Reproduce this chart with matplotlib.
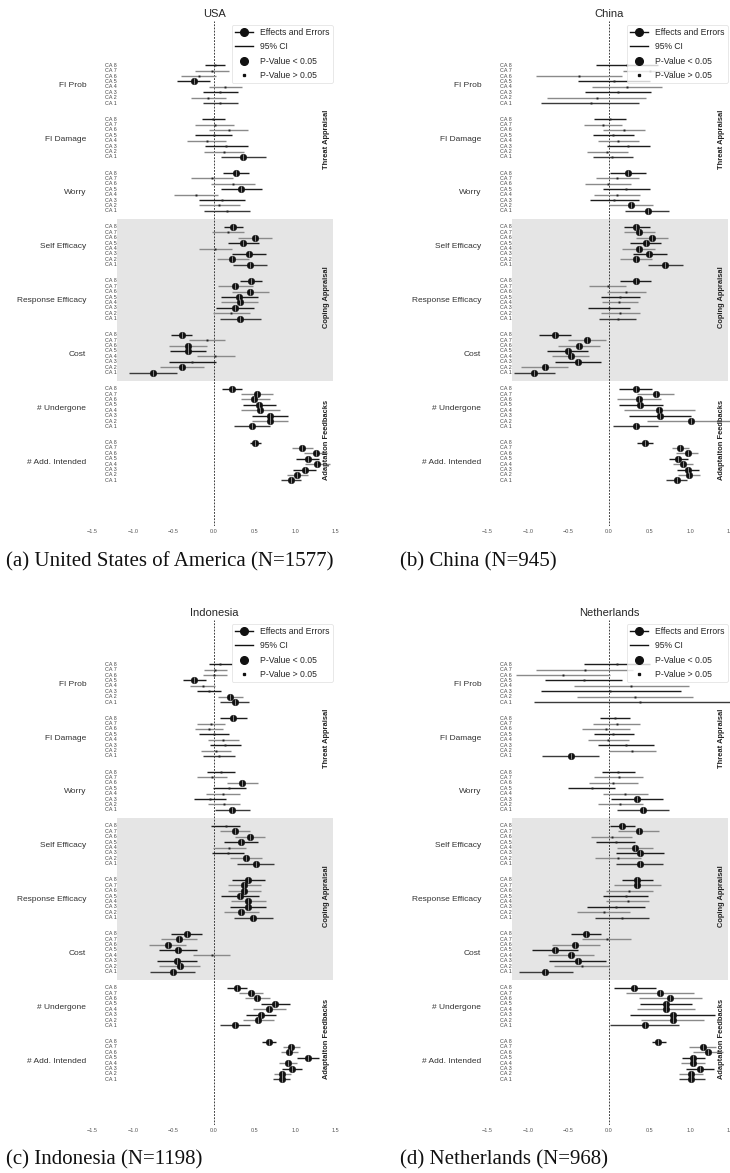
import matplotlib
matplotlib.use("Agg")
import matplotlib.pyplot as plt
from matplotlib.lines import Line2D

# ---------------- data (rows: variables, columns: CA 8 ... CA 1) ----------------
variables = ["FI Prob", "FI Damage", "Worry", "Self Efficacy", "Response Efficacy",
             "Cost", "# Undergone", "# Add. Intended"]
ca_labels = ["CA 8", "CA 7", "CA 6", "CA 5", "CA 4", "CA 3", "CA 2", "CA 1"]
sections = ["Threat Appraisal", "Coping Appraisal", "Adaptaiton Feedbacks"]
countries = ["USA", "China", "Indonesia", "Netherlands"]
captions = ["(a) United States of America (N=1577)", "(b) China (N=945)",
            "(c) Indonesia (N=1198)", "(d) Netherlands (N=968)"]
xticks = [-1.5, -1.0, -0.5, 0.0, 0.5, 1.0, 1.5]

usa_est = [
    [0.012, -0.025, -0.19, -0.25, 0.135, 0.074, -0.07, 0.07],
    [-0.012, 0.012, 0.18, -0.004, -0.09, 0.152, 0.12, 0.357],
    [0.27, -0.025, 0.23, 0.337, -0.226, 0.1, 0.062, 0.16],
    [0.238, 0.172, 0.505, 0.353, 0.008, 0.43, 0.226, 0.443],
    [0.45, 0.263, 0.443, 0.308, 0.316, 0.255, 0.21, 0.324],
    [-0.398, -0.09, -0.32, -0.32, 0.008, -0.267, -0.39, -0.75],
    [0.218, 0.534, 0.49, 0.554, 0.57, 0.686, 0.686, 0.468],
    [0.509, 1.084, 1.25, 1.158, 1.272, 1.117, 1.026, 0.944],
]
usa_lo = [
    [-0.11, -0.234, -0.41, -0.46, -0.066, -0.135, -0.29, -0.135],
    [-0.144, -0.23, -0.057, -0.23, -0.33, -0.107, -0.123, 0.086],
    [0.11, -0.28, -0.037, 0.082, -0.497, -0.18, -0.185, -0.123],
    [0.127, -0.02, 0.296, 0.168, -0.19, 0.218, 0.033, 0.23],
    [0.324, 0.053, 0.218, 0.086, 0.086, 0.02, -0.012, 0.074],
    [-0.525, -0.308, -0.558, -0.542, -0.213, -0.558, -0.66, -1.05],
    [0.1, 0.328, 0.328, 0.353, 0.328, 0.468, 0.468, 0.242],
    [0.44, 0.96, 1.11, 1.014, 1.125, 0.969, 0.9, 0.825],
]
usa_hi = [
    [0.14, 0.19, 0.03, -0.045, 0.35, 0.30, 0.15, 0.29],
    [0.131, 0.24, 0.42, 0.226, 0.15, 0.42, 0.365, 0.636],
    [0.427, 0.234, 0.51, 0.595, 0.05, 0.386, 0.32, 0.447],
    [0.36, 0.37, 0.71, 0.55, 0.218, 0.645, 0.427, 0.657],
    [0.59, 0.476, 0.673, 0.538, 0.546, 0.497, 0.443, 0.579],
    [-0.267, 0.14, -0.082, -0.1, 0.259, 0.02, -0.12, -0.456],
    [0.35, 0.73, 0.69, 0.768, 0.81, 0.915, 0.907, 0.694],
    [0.579, 1.215, 1.387, 1.293, 1.424, 1.26, 1.158, 1.07],
]
usa_sig = [
    [0, 0, 0, 1, 0, 0, 0, 0],
    [0, 0, 0, 0, 0, 0, 0, 1],
    [1, 0, 0, 1, 0, 0, 0, 0],
    [1, 0, 1, 1, 0, 1, 1, 1],
    [1, 1, 1, 1, 1, 1, 0, 1],
    [1, 0, 1, 1, 0, 0, 1, 1],
    [1, 1, 1, 1, 1, 1, 1, 1],
    [1, 1, 1, 1, 1, 1, 1, 1],
]

china_est = [
    [0.22, 0.5, -0.37, 0.062, 0.218, 0.111, -0.152, -0.222],
    [0.016, -0.07, 0.181, 0.049, 0.111, 0.23, -0.025, 0.041],
    [0.235, 0.1, -0.012, 0.206, 0.095, 0.058, 0.268, 0.474],
    [0.338, 0.375, 0.527, 0.453, 0.363, 0.494, 0.326, 0.692],
    [0.326, -0.016, 0.214, 0.132, 0.128, 0.0, 0.14, 0.107],
    [-0.667, -0.268, -0.371, -0.511, -0.474, -0.379, -0.795, -0.919],
    [0.33, 0.573, 0.371, 0.387, 0.618, 0.626, 1.014, 0.326],
    [0.445, 0.878, 0.968, 0.853, 0.915, 0.976, 0.989, 0.836],
]
china_lo = [
    [-0.16, 0.17, -0.90, -0.38, -0.214, -0.30, -0.762, -0.836],
    [-0.181, -0.305, -0.07, -0.2, -0.14, -0.029, -0.276, -0.2],
    [0.012, -0.165, -0.297, -0.078, -0.185, -0.24, 0.005, 0.198],
    [0.181, 0.181, 0.33, 0.264, 0.165, 0.293, 0.132, 0.478],
    [0.14, -0.247, -0.025, -0.103, -0.087, -0.264, -0.103, -0.12],
    [-0.857, -0.503, -0.635, -0.762, -0.7, -0.672, -1.088, -1.17],
    [0.128, 0.346, 0.1, 0.12, 0.181, 0.251, 0.47, 0.045],
    [0.35, 0.775, 0.828, 0.738, 0.787, 0.84, 0.849, 0.705],
]
china_hi = [
    [0.6, 0.83, 0.16, 0.51, 0.647, 0.52, 0.461, 0.375],
    [0.214, 0.165, 0.44, 0.305, 0.367, 0.5, 0.23, 0.297],
    [0.457, 0.367, 0.276, 0.5, 0.383, 0.375, 0.544, 0.742],
    [0.5, 0.56, 0.725, 0.643, 0.56, 0.713, 0.523, 0.915],
    [0.515, 0.214, 0.461, 0.383, 0.358, 0.264, 0.387, 0.338],
    [-0.474, -0.037, -0.107, -0.26, -0.243, -0.095, -0.503, -0.66],
    [0.532, 0.8, 0.635, 0.667, 1.059, 1.005, 1.56, 0.6],
    [0.54, 0.985, 1.096, 0.972, 1.038, 1.112, 1.12, 0.964],
]
china_sig = [
    [0, 0, 0, 0, 0, 0, 0, 0],
    [0, 0, 0, 0, 0, 0, 0, 0],
    [1, 0, 0, 0, 0, 0, 1, 1],
    [1, 1, 1, 1, 1, 1, 1, 1],
    [1, 0, 0, 0, 0, 0, 0, 0],
    [1, 1, 1, 1, 1, 1, 1, 1],
    [1, 1, 1, 1, 1, 1, 1, 1],
    [1, 1, 1, 1, 1, 1, 1, 1],
]

indonesia_est = [
    [0.078, 0.012, 0.0, -0.242, -0.14, -0.062, 0.2, 0.254],
    [0.23, -0.037, -0.062, 0.0, 0.11, 0.135, 0.02, 0.057],
    [0.086, -0.02, 0.345, 0.189, 0.107, -0.045, 0.123, 0.222],
    [0.148, 0.254, 0.44, 0.328, 0.189, 0.172, 0.398, 0.513],
    [0.415, 0.374, 0.374, 0.316, 0.423, 0.423, 0.337, 0.484],
    [-0.337, -0.427, -0.57, -0.443, -0.029, -0.46, -0.423, -0.509],
    [0.287, 0.452, 0.534, 0.755, 0.681, 0.579, 0.542, 0.259],
    [0.673, 0.952, 0.928, 1.154, 0.911, 0.956, 0.842, 0.833],
]
indonesia_lo = [
    [-0.062, -0.127, -0.135, -0.386, -0.296, -0.213, 0.045, 0.074],
    [0.074, -0.213, -0.234, -0.18, -0.074, -0.05, -0.16, -0.135],
    [-0.086, -0.205, 0.156, -0.012, -0.094, -0.242, -0.078, 0.01],
    [-0.033, 0.07, 0.254, 0.119, -0.008, -0.02, 0.2, 0.287],
    [0.218, 0.177, 0.172, 0.086, 0.21, 0.2, 0.127, 0.242],
    [-0.53, -0.65, -0.796, -0.677, -0.259, -0.698, -0.677, -0.784],
    [0.164, 0.304, 0.378, 0.575, 0.48, 0.398, 0.357, 0.07],
    [0.591, 0.846, 0.821, 1.022, 0.805, 0.833, 0.735, 0.727],
]
indonesia_hi = [
    [0.22, 0.164, 0.16, -0.094, 0.016, 0.09, 0.36, 0.435],
    [0.40, 0.14, 0.11, 0.185, 0.304, 0.328, 0.213, 0.254],
    [0.263, 0.164, 0.542, 0.394, 0.316, 0.152, 0.324, 0.44],
    [0.324, 0.447, 0.624, 0.538, 0.39, 0.374, 0.595, 0.739],
    [0.624, 0.583, 0.575, 0.55, 0.636, 0.636, 0.55, 0.73],
    [-0.144, -0.205, -0.34, -0.205, 0.2, -0.213, -0.168, -0.238],
    [0.41, 0.603, 0.686, 0.94, 0.89, 0.768, 0.735, 0.447],
    [0.76, 1.055, 1.039, 1.293, 1.026, 1.08, 0.948, 0.94],
]
indonesia_sig = [
    [0, 0, 0, 1, 0, 0, 1, 1],
    [1, 0, 0, 0, 0, 0, 0, 0],
    [0, 0, 1, 0, 0, 0, 0, 1],
    [0, 1, 1, 1, 0, 0, 1, 1],
    [1, 1, 1, 1, 1, 1, 1, 1],
    [1, 1, 1, 1, 0, 1, 1, 1],
    [1, 1, 1, 1, 1, 1, 1, 1],
    [1, 1, 1, 1, 1, 1, 1, 1],
]

netherlands_est = [
    [0.095, -0.3, -0.569, -0.309, 0.276, 0.016, 0.321, 0.379],
    [0.07, 0.095, -0.037, 0.054, -0.008, 0.206, 0.284, -0.474],
    [0.115, 0.12, 0.049, -0.214, 0.198, 0.35, 0.14, 0.416],
    [0.165, 0.363, 0.033, 0.082, 0.321, 0.379, 0.107, 0.379],
    [0.346, 0.346, 0.243, 0.206, 0.231, 0.082, -0.066, 0.157],
    [-0.284, -0.025, -0.416, -0.663, -0.47, -0.387, -0.338, -0.783],
    [0.313, 0.626, 0.75, 0.705, 0.705, 0.783, 0.783, 0.441],
    [0.606, 1.158, 1.22, 1.038, 1.038, 1.121, 1.005, 1.005],
]
netherlands_lo = [
    [-0.305, -0.898, -1.145, -0.783, -0.433, -0.836, -0.391, -0.919],
    [-0.111, -0.194, -0.33, -0.181, -0.264, -0.14, 0.0, -0.82],
    [-0.087, -0.181, -0.25, -0.5, -0.078, 0.029, -0.14, 0.099],
    [0.016, 0.107, -0.227, -0.157, 0.103, 0.087, -0.177, 0.091],
    [0.165, 0.058, -0.041, -0.07, -0.037, -0.272, -0.391, -0.169],
    [-0.466, -0.33, -0.709, -0.948, -0.758, -0.738, -0.676, -1.112],
    [0.058, 0.206, 0.367, 0.379, 0.346, 0.255, 0.396, 0.016],
    [0.527, 0.989, 1.038, 0.902, 0.89, 0.952, 0.861, 0.857],
]
netherlands_hi = [
    [0.5, 0.29, 0.008, 0.165, 0.989, 0.886, 1.038, 1.7],
    [0.255, 0.387, 0.255, 0.305, 0.247, 0.552, 0.58, -0.12],
    [0.321, 0.42, 0.358, 0.078, 0.474, 0.667, 0.42, 0.738],
    [0.317, 0.61, 0.288, 0.321, 0.544, 0.68, 0.391, 0.667],
    [0.536, 0.643, 0.544, 0.486, 0.494, 0.445, 0.26, 0.49],
    [-0.103, 0.276, -0.115, -0.379, -0.185, -0.041, 0.0, -0.449],
    [0.573, 1.047, 1.15, 1.026, 1.059, 1.306, 1.17, 0.861],
    [0.705, 1.323, 1.405, 1.183, 1.183, 1.294, 1.162, 1.183],
]
netherlands_sig = [
    [0, 0, 0, 0, 0, 0, 0, 0],
    [0, 0, 0, 0, 0, 0, 0, 1],
    [0, 0, 0, 0, 0, 1, 0, 1],
    [1, 1, 0, 0, 1, 1, 0, 1],
    [1, 1, 0, 0, 0, 0, 0, 0],
    [1, 0, 1, 1, 1, 1, 0, 1],
    [1, 1, 1, 1, 1, 1, 1, 1],
    [1, 1, 1, 1, 1, 1, 1, 1],
]

# ---------------- styling ----------------
plt.rcParams["font.family"] = ["Liberation Sans", "DejaVu Sans"]
W, H = 730, 1173
DPI = 100
line_colors = ["#1c1c1c", "#8a8a8a", "#8a8a8a", "#1c1c1c",
               "#8a8a8a", "#1c1c1c", "#8a8a8a", "#3a3a3a"]
SHADE = "#e5e5e5"

# panel geometry in pixels: (left, top)
panel_px = [(92.3, 20.7), (487.3, 20.7), (92.3, 619.7), (487.3, 619.7)]
AX_W, AX_H = 243.5, 505.0
caption_px = [(6, 562), (400, 562), (6, 1160), (400, 1160)]
section_y = [13.8, 43.0, 69.5]

fig = plt.figure(figsize=(W / DPI, H / DPI), dpi=DPI)

data = [
    (usa_est, usa_lo, usa_hi, usa_sig),
    (china_est, china_lo, china_hi, china_sig),
    (indonesia_est, indonesia_lo, indonesia_hi, indonesia_sig),
    (netherlands_est, netherlands_lo, netherlands_hi, netherlands_sig),
]

for p, (name, (est, lo, hi, sig)) in enumerate(zip(countries, data)):
    lpx, tpx = panel_px[p]
    ax = fig.add_axes([lpx / W, 1 - (tpx + AX_H) / H, AX_W / W, AX_H / H])
    ax.set_xlim(-1.5, 1.5)
    ax.set_ylim(85.42, -8.27)
    for s in ax.spines.values():
        s.set_visible(False)

    # shaded coping appraisal block
    ax.fill_between([-1.19, 1.46], 28.5, 58.5, color=SHADE, lw=0, zorder=0)
    ax.axvline(0, color="#222222", lw=0.6, ls=(0, (2.2, 1.6)), zorder=1)

    for g in range(len(variables)):
        for i in range(len(ca_labels)):
            y = g * 10 + i
            ax.plot([lo[g][i], hi[g][i]], [y, y], color=line_colors[i],
                    lw=1.0, solid_capstyle="butt", zorder=2)
            if sig[g][i]:
                ax.plot(est[g][i], y, marker="o", ms=4.8, color="#111111",
                        mec="#111111", mew=0.3, zorder=3)
                ax.plot(est[g][i], y, marker="|", ms=4.2, color="#9a9a9a",
                        mew=0.6, zorder=4)
            else:
                ax.plot(est[g][i], y, marker="s", ms=1.4, color="#222222",
                        mew=0, zorder=3)
            ax.text(-1.2, y, ca_labels[i], fontsize=3.9, color="#444444",
                    ha="right", va="center", zorder=3)

    ax.set_yticks([g * 10 + 3.5 for g in range(len(variables))])
    ax.set_yticklabels(variables, fontsize=6, color="#333333")
    ax.set_xticks(xticks)
    ax.set_xticklabels([f"{t:.1f}".replace("-", "\u2212") for t in xticks],
                       fontsize=4, color="#555555")
    ax.tick_params(axis="y", length=0, pad=4.3)
    ax.tick_params(axis="x", length=0, pad=2.5)

    for k, sec in enumerate(sections):
        ax.text(1.39, section_y[k], sec, rotation=90, fontsize=5.4,
                fontweight="bold", color="#222222", ha="center", va="center",
                zorder=5)

    ax.set_title(name, fontsize=8, color="#262626", pad=2.6)

    handles = [
        Line2D([], [], color="#111111", lw=1.0, marker="o", ms=5.5),
        Line2D([], [], color="#111111", lw=1.0),
        Line2D([], [], color="#111111", lw=0, marker="o", ms=5.5),
        Line2D([], [], color="#111111", lw=0, marker="s", ms=1.4),
    ]
    labels = ["Effects and Errors", "95% CI", "P-Value < 0.05", "P-Value > 0.05"]
    leg = ax.legend(handles, labels, loc="upper right",
                    bbox_to_anchor=(1.46, -7.5), bbox_transform=ax.transData,
                    borderaxespad=0, fontsize=6.2, frameon=True, fancybox=True,
                    framealpha=0.8, edgecolor="#dddddd", borderpad=0.35,
                    handlelength=2.1, handletextpad=0.85, labelspacing=0.62)
    leg.get_frame().set_linewidth(0.6)
    leg.set_zorder(6)
    for t in leg.get_texts():
        t.set_color("#262626")

    cx, cy = caption_px[p]
    fig.text(cx / W, 1 - cy / H, captions[p], fontsize=15,
             family=["Liberation Serif", "DejaVu Serif"], color="#111111",
             ha="left", va="center")

fig.savefig("out.png", dpi=DPI, facecolor="white")
